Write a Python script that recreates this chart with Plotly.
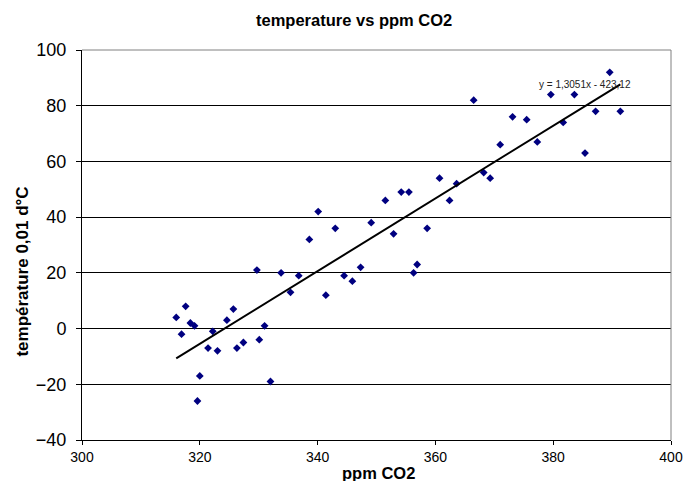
import plotly.graph_objects as go

# Data
co2 = [316.0, 316.9, 317.6, 318.4, 319.1, 319.6, 320.0, 321.4, 322.2, 323.0,
       324.6, 325.7, 326.3, 327.4, 329.7, 330.1, 331.0, 332.0, 333.8, 335.4,
       336.8, 338.6, 340.1, 341.4, 343.0, 344.5, 345.9, 347.3, 349.1, 351.5,
       352.9, 354.2, 355.5, 356.3, 356.9, 358.6, 360.7, 362.4, 363.6, 366.5,
       368.2, 369.3, 371.0, 373.1, 375.5, 377.3, 379.6, 381.7, 383.6, 385.4,
       387.2, 389.6, 391.4]
temp = [4, -2, 8, 2, 1, -26, -17, -7, -1, -8,
        3, 7, -7, -5, 21, -4, 1, -19, 20, 13,
        19, 32, 42, 12, 36, 19, 17, 22, 38, 46,
        34, 49, 49, 20, 23, 36, 54, 46, 52, 82,
        56, 54, 66, 76, 75, 67, 84, 74, 84, 63,
        78, 92, 78]
trend_slope = 1.3051
trend_intercept = -423.12
trend_label = "y = 1,3051x - 423,12"
x_ticks = [300, 320, 340, 360, 380, 400]
y_ticks = [-40, -20, 0, 20, 40, 60, 80, 100]

FONT = "Liberation Sans, Arial, sans-serif"

fig = go.Figure()
fig.add_trace(go.Scatter(
    x=co2, y=temp, mode="markers",
    marker=dict(symbol="diamond", size=6, color="#000080"),
    showlegend=False, hoverinfo="x+y"))

tx = [min(co2), max(co2)]
ty = [trend_slope * v + trend_intercept for v in tx]
fig.add_trace(go.Scatter(
    x=tx, y=ty, mode="lines",
    line=dict(color="black", width=2),
    showlegend=False, hoverinfo="skip"))

fig.update_layout(
    width=684, height=481,
    margin=dict(l=82, r=13, t=50, b=41),
    paper_bgcolor="white", plot_bgcolor="white",
    font=dict(family=FONT, color="black"),
    xaxis=dict(range=[300, 400], tickvals=x_ticks, ticks="outside", ticklen=4,
               tickcolor="black", showline=True, linecolor="black", linewidth=1,
               showgrid=False, zeroline=False, automargin=False,
               ticklabelstandoff=0,
               tickfont=dict(size=14, family=FONT)),
    yaxis=dict(range=[-40, 100], tickvals=y_ticks, ticks="outside", ticklen=5,
               tickcolor="black", showline=True, linecolor="black", linewidth=1,
               showgrid=True, gridcolor="black", gridwidth=1,
               zeroline=False, automargin=False,
               ticklabelstandoff=6,
               tickfont=dict(size=18, family=FONT)),
    shapes=[
        dict(type="line", xref="paper", yref="paper", x0=0, x1=1, y0=1, y1=1,
             line=dict(color="#808080", width=1)),
        dict(type="line", xref="paper", yref="paper", x0=1, x1=1, y0=0, y1=1,
             line=dict(color="#808080", width=1)),
    ],
    annotations=[
        dict(text="<b>temperature vs ppm CO2</b>", xref="paper", yref="paper",
             x=0.462, y=1.077, xanchor="center", yanchor="middle", showarrow=False,
             font=dict(size=16.5, family=FONT)),
        dict(text="<b>température 0,01 d°C</b>", xref="paper", yref="paper",
             x=-0.1007, y=0.431, xanchor="center", yanchor="middle", showarrow=False,
             textangle=-90, font=dict(size=17, family=FONT)),
        dict(text="<b>ppm CO2</b>", xref="paper", yref="paper",
             x=0.503, y=-0.085, xanchor="center", yanchor="middle", showarrow=False,
             font=dict(size=16.5, family=FONT)),
        dict(text=trend_label, xref="x", yref="y", x=385.4, y=87.5,
             xanchor="center", yanchor="middle", showarrow=False,
             font=dict(size=10, family=FONT, color="#222222")),
    ],
)

fig.write_html("out.html")
